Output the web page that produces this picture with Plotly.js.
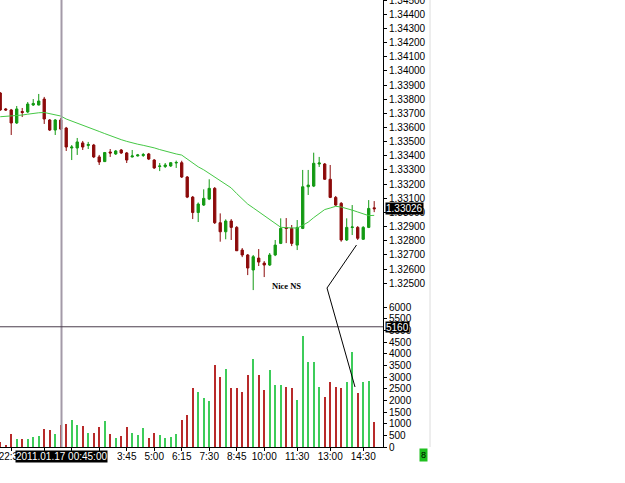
<!DOCTYPE html>
<html>
<head>
<meta charset="utf-8">
<script src="https://cdn.plot.ly/plotly-3.0.1.min.js"></script>
<style>html,body{margin:0;padding:0;background:#fff;}#chart{width:625px;height:483px;}</style>
</head>
<body>
<div id="chart"></div>
<script>
const times = ["22:00","22:15","22:30","22:45","23:00","23:15","23:30","23:45",
"00:00","00:15","00:30","00:45","01:00","01:15","01:30","01:45","02:00","02:15","02:30","02:45",
"03:00","03:15","03:30","03:45","04:00","04:15","04:30","04:45","05:00","05:15","05:30","05:45",
"06:00","06:15","06:30","06:45","07:00","07:15","07:30","07:45","08:00","08:15","08:30","08:45",
"09:00","09:15","09:30","09:45","10:00","10:15","10:30","10:45","11:00","11:15","11:30","11:45",
"12:00","12:15","12:30","12:45","13:00","13:15","13:30","13:45","14:00","14:15","14:30","14:45","15:00"];

const openP = [1.33844,1.33731,1.33724,1.33632,1.33713,1.33710,1.33759,1.33759,1.33801,1.33653,1.33582,
1.33653,1.33596,1.33455,1.33455,1.33491,1.33473,1.33476,1.33392,1.33359,1.33427,
1.33413,1.33441,1.33420,1.33392,1.33399,1.33402,1.33413,1.33370,1.33324,1.33324,
1.33328,1.33349,1.33351,1.33250,1.33108,1.32999,1.33052,1.33094,1.33170,1.32927,
1.32863,1.32939,1.32894,1.32734,1.32699,1.32593,1.32677,1.32642,1.32628,1.32699,
1.32781,1.32893,1.32887,1.32769,1.32887,1.33181,1.33186,1.33342,1.33342,1.33234,
1.33106,1.33064,1.32805,1.32893,1.32894,1.32810,1.32894,1.33032];

const highP = [1.33851,1.33738,1.33731,1.33752,1.33738,1.33780,1.33801,1.33837,1.33816,1.33660,1.33660,
1.33667,1.33604,1.33476,1.33526,1.33505,1.33498,1.33484,1.33406,1.33427,1.33448,
1.33441,1.33448,1.33427,1.33441,1.33413,1.33420,1.33420,1.33377,1.33349,1.33349,
1.33356,1.33366,1.33365,1.33257,1.33116,1.33070,1.33163,1.33234,1.33179,1.32993,
1.32951,1.32953,1.32903,1.32748,1.32706,1.32699,1.32741,1.32656,1.32713,1.32805,
1.32958,1.32960,1.32911,1.32946,1.33300,1.33300,1.33422,1.33392,1.33349,1.33335,
1.33116,1.33073,1.32958,1.33052,1.32903,1.32903,1.33087,1.33080];

const lowP = [1.33717,1.33717,1.33547,1.33625,1.33674,1.33702,1.33752,1.33756,1.33625,1.33575,1.33547,
1.33582,1.33434,1.33370,1.33406,1.33441,1.33448,1.33384,1.33335,1.33356,1.33392,
1.33406,1.33413,1.33349,1.33388,1.33395,1.33392,1.33370,1.33307,1.33292,1.33314,
1.33321,1.33314,1.33243,1.33101,1.32953,1.32932,1.33045,1.33087,1.32918,1.32793,
1.32810,1.32805,1.32727,1.32684,1.32557,1.32451,1.32621,1.32543,1.32621,1.32691,
1.32776,1.32783,1.32762,1.32734,1.32882,1.33123,1.33179,1.33321,1.33229,1.33101,
1.33045,1.32793,1.32798,1.32840,1.32805,1.32805,1.32889,1.33002];

const closeP = [1.33724,1.33724,1.33632,1.33731,1.33706,1.33766,1.33770,1.33787,1.33660,1.33582,1.33653,
1.33589,1.33462,1.33462,1.33498,1.33462,1.33480,1.33392,1.33356,1.33423,1.33420,
1.33434,1.33420,1.33370,1.33399,1.33406,1.33409,1.33377,1.33314,1.33328,1.33335,
1.33351,1.33353,1.33250,1.33108,1.32999,1.33059,1.33099,1.33170,1.32927,1.32863,
1.32939,1.32894,1.32729,1.32699,1.32607,1.32687,1.32649,1.32628,1.32699,1.32769,
1.32887,1.32886,1.32781,1.32894,1.33181,1.33193,1.33347,1.33349,1.33234,1.33106,
1.33052,1.32805,1.32894,1.32897,1.32817,1.32894,1.33028,1.33026];

const maLine = [1.33676,1.33678,1.33680,1.33681,1.33688,1.33694,1.33700,1.33704,1.33706,1.33698,1.33690,
1.33681,1.33660,1.33646,1.33632,1.33619,1.33603,1.33588,1.33572,1.33557,1.33541,
1.33526,1.33514,1.33502,1.33490,1.33482,1.33474,1.33466,1.33456,1.33444,1.33432,
1.33423,1.33413,1.33405,1.33377,1.33346,1.33322,1.33301,1.33276,1.33250,1.33225,
1.33201,1.33173,1.33133,1.33093,1.33059,1.33032,1.33004,1.32977,1.32948,1.32920,
1.32895,1.32892,1.32890,1.32889,1.32909,1.32931,1.32963,1.32994,1.33020,1.33031,
1.33043,1.33038,1.33029,1.33016,1.33003,1.32990,1.32977,1.32979];

const volume = [200,86,558,343,329,358,443,486,772,729,543,
944,987,1158,930,887,586,586,844,1115,543,
400,472,844,586,500,829,372,600,500,400,
429,572,1172,1373,2531,2374,2088,1988,3518,2989,
3346,2531,2531,2374,3089,3775,3089,2431,3303,2660,
2660,2588,2531,2016,4775,3632,3632,2588,2145,2774,
2588,2517,2788,4075,2302,2788,2845,1087];

const tickTimes = ["22:30","00:00","01:15","02:30","03:45","05:00","06:15","07:30","08:45","10:00","11:30","13:00","14:30"];
const tickLabels = ["22:30","","","","3:45","5:00","6:15","7:30","8:45","10:00","11:30","13:00","14:30"];

const lastPriceLabel = "1.33026";
const cursorVolumeLabel = "5160";
const cursorVolume = 5160;
const cursorTime = "2011.01.17 00:45:00";
const noteText = "Nice NS";

const GREEN = '#139a13', RED = '#8c0a0a';
const volColors = closeP.map((c,i)=> c >= openP[i] ? '#3dcc5a' : '#b82a2a');

const tickFont = {family:'Liberation Sans, Arial, sans-serif', size:10, color:'#000'};
const boxFont = {family:'Liberation Sans, Arial, sans-serif', size:10, color:'#fff'};

const traces = [
  {
    type:'candlestick', x:times, open:openP, high:highP, low:lowP, close:closeP,
    xaxis:'x', yaxis:'y', whiskerwidth:0, hoverinfo:'skip',
    increasing:{line:{color:GREEN,width:1}, fillcolor:GREEN},
    decreasing:{line:{color:RED,width:1}, fillcolor:RED},
    showlegend:false
  },
  {
    type:'scatter', mode:'lines', x:times, y:maLine, xaxis:'x', yaxis:'y',
    line:{color:'#45c845', width:1}, hoverinfo:'skip', showlegend:false
  },
  {
    type:'bar', x:times, y:volume, xaxis:'x', yaxis:'y2', width:0.35,
    marker:{color:volColors, line:{width:0}}, hoverinfo:'skip', showlegend:false
  }
];

const W = 383, H = 447;
const splitY = 296; // pixel row separating price and volume panes
const layout = {
  width:625, height:483,
  margin:{l:0, r:242, t:0, b:36, pad:0},
  paper_bgcolor:'#fff', plot_bgcolor:'#fff',
  showlegend:false, boxgap:0.4, bargap:0,
  xaxis:{
    type:'category', range:[-0.04, 69.6], anchor:'y2',
    showline:true, linecolor:'#000', linewidth:1, mirror:false,
    ticks:'outside', ticklen:3, tickcolor:'#000', tickwidth:1,
    tickmode:'array', tickvals:tickTimes, ticktext:tickLabels, tickangle:0,
    ticklabelstandoff:-3,
    tickfont:tickFont, showgrid:false, zeroline:false,
    rangeslider:{visible:false}, automargin:false, fixedrange:true
  },
  yaxis:{
    domain:[(H-splitY)/H, 1], range:[1.34501 - splitY*0.00007067, 1.34501], side:'right', anchor:'x',
    tick0:1.345, dtick:0.001, tickformat:'.5f', ticklabeloverflow:'allow',
    showline:true, linecolor:'#000', linewidth:1,
    ticks:'outside', ticklen:3, tickcolor:'#000',
    tickfont:tickFont, showgrid:false, zeroline:false, automargin:false, fixedrange:true
  },
  yaxis2:{
    domain:[0, (H-splitY)/H], range:[0, (H-splitY)/23.3*1000], side:'right', anchor:'x',
    tick0:0, dtick:500, ticklabeloverflow:'allow',
    showline:true, linecolor:'#000', linewidth:1,
    ticks:'outside', ticklen:3, tickcolor:'#000',
    tickfont:tickFont, showgrid:false, zeroline:false, automargin:false, fixedrange:true
  },
  shapes:[
    {type:'line', xref:'paper', yref:'paper', x0:61.5/W, x1:61.5/W, y0:0, y1:1,
     line:{color:'#a39aa8', width:2}},
    {type:'line', xref:'paper', yref:'y2', x0:0, x1:1, y0:cursorVolume, y1:cursorVolume,
     line:{color:'#4a3c4c', width:1}},
    {type:'line', xref:'paper', yref:'paper', x0:356.5/W, y0:1-245/H, x1:327/W, y1:1-288/H,
     line:{color:'#000', width:1}},
    {type:'line', xref:'paper', yref:'paper', x0:327/W, y0:1-288/H, x1:355/W, y1:1-387/H,
     line:{color:'#000', width:1}},
    {type:'line', xref:'paper', yref:'paper', x0:430/W, x1:430/W, y0:0, y1:1,
     line:{color:'#dcdcdc', width:1}}
  ],
  annotations:[
    {xref:'paper', yref:'y', x:385/W, y:closeP[closeP.length-1], xanchor:'left', yanchor:'middle',
     text:lastPriceLabel, showarrow:false, bgcolor:'#000', borderpad:0, height:11,
     font:boxFont},
    {xref:'paper', yref:'y2', x:385/W, y:cursorVolume, xanchor:'left', yanchor:'middle',
     text:cursorVolumeLabel, showarrow:false, bgcolor:'#000', borderpad:0, height:10,
     font:boxFont},
    {xref:'paper', yref:'paper', x:61/W, y:1-456/H, xanchor:'center', yanchor:'middle',
     text:cursorTime, showarrow:false, bgcolor:'#000', borderpad:0, height:11,
     font:boxFont},
    {xref:'paper', yref:'paper', x:286/W, y:1-286/H, xanchor:'center', yanchor:'middle',
     text:'<b>'+noteText+'</b>', showarrow:false,
     font:{family:'Liberation Serif, Times New Roman, serif', size:8.5, color:'#000'}},
    {xref:'paper', yref:'paper', x:423/W, y:1-455/H, xanchor:'center', yanchor:'middle',
     text:'8', showarrow:false, bgcolor:'#1fbf1f', borderpad:1,
     font:{family:'Liberation Sans, Arial, sans-serif', size:9, color:'#000'}}
  ]
};

Plotly.newPlot('chart', traces, layout, {displayModeBar:false, staticPlot:true});
</script>
</body>
</html>
